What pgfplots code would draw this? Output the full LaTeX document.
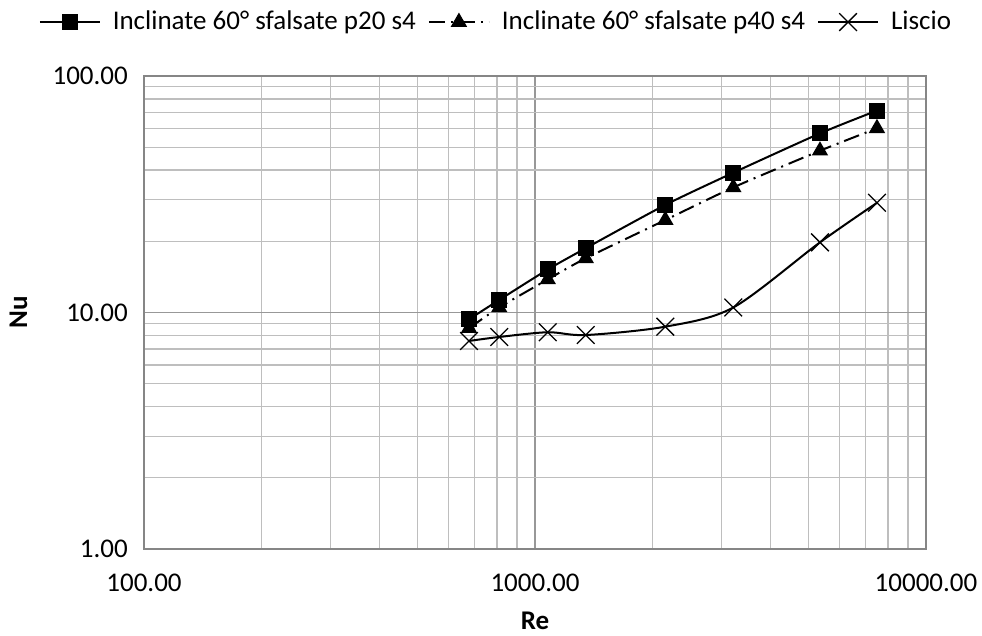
\documentclass[border=0pt]{standalone}
\usepackage{pgfplots}
\pgfplotsset{compat=1.18}
\usepackage{fontspec}
\setmainfont{Carlito}
\definecolor{axisgray}{HTML}{868686}
\definecolor{majgrid}{HTML}{989898}
\definecolor{mingrid}{HTML}{BEBEBE}
\begin{document}
\fontsize{27}{32}\selectfont
\begin{tikzpicture}[x=1pt,y=1pt]
\useasboundingbox (0,0) rectangle (982,636);
\begin{axis}[
  at={(144pt,87pt)}, anchor=south west,
  scale only axis, width=782pt, height=473pt,
  xmode=log, ymode=log,
  xmin=100, xmax=10000, ymin=1, ymax=100,
  log basis x=10, log basis y=10,
  xtick={100,1000,10000}, xticklabels={100.00,1000.00,10000.00},
  ytick={1,10,100}, yticklabels={1.00,10.00,100.00},
  minor xtick={200,300,400,500,600,700,800,900,2000,3000,4000,5000,6000,7000,8000,9000},
  minor ytick={2,3,4,5,6,7,8,9,20,30,40,50,60,70,80,90},
  /pgf/number format/assume math mode=true,
  major tick length=0pt, minor tick length=0pt,
  grid=both,
  major grid style={majgrid, line width=1.5pt},
  minor grid style={mingrid, line width=1.3pt},
  axis line style={axisgray, line width=1.5pt},
  ticklabel style={font=\fontsize{27}{32}\selectfont, text=black},
  xticklabel style={yshift=-16pt},
  yticklabel style={xshift=-7pt},
  xlabel={\textbf{Re}}, ylabel={\textbf{Nu}},
  label style={font=\fontsize{27}{32}\selectfont},
  xlabel style={yshift=-2pt},
  ylabel style={yshift=7pt},
  legend columns=3,
  legend style={at={(0.45,1.114)}, anchor=center, draw=none, fill=none,
    font=\fontsize{27}{32}\selectfont, column sep=10pt, inner sep=0pt},
  legend image code/.code={\draw[mark repeat=2,mark phase=2,#1] plot coordinates {(0pt,0pt) (30pt,0pt) (60pt,0pt)};},
  clip=false,
]
\addplot[black, line width=2pt, smooth, tension=0.4, mark=square*, mark size=7pt, mark options={solid}]
coordinates {(678,9.36) (810,11.3) (1078,15.2) (1348,18.7) (2154,28.5) (3215,39.0) (5356,57.2) (7493,71.4)};
\addlegendentry{Inclinate 60° sfalsate p20 s4}
\addplot[black, line width=2pt, smooth, tension=0.4, dash pattern=on 16pt off 6pt on 2pt off 6pt, mark=triangle*, mark size=7.5pt, mark options={solid}]
coordinates {(678,8.58) (810,10.5) (1078,13.8) (1348,16.95) (2154,24.6) (3215,33.8) (5356,48.3) (7493,60.1)};
\addlegendentry{Inclinate 60° sfalsate p40 s4}
\addplot[black, line width=2pt, smooth, tension=0.5, mark=x, mark size=12.5pt, mark options={solid, line width=1.3pt}]
coordinates {(678,7.58) (810,7.88) (1078,8.25) (1348,8.03) (2154,8.71) (3215,10.5) (5356,19.8) (7493,29.1)};
\addlegendentry{Liscio}
\end{axis}
\end{tikzpicture}
\end{document}
